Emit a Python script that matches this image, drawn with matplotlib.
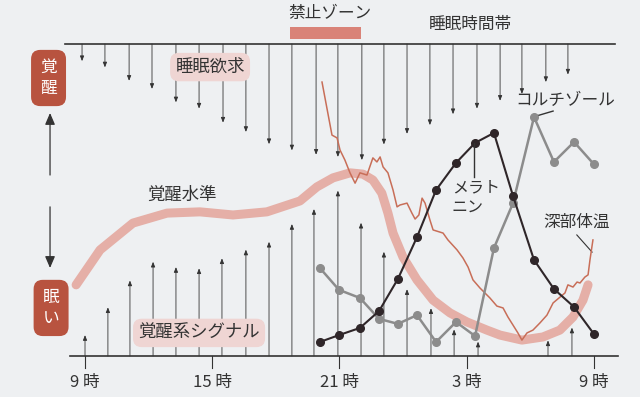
import matplotlib
matplotlib.use("Agg")
import matplotlib.pyplot as plt

plt.rcParams["font.family"] = ["Noto Sans CJK JP", "DejaVu Sans"]

# hours on x (9 = 9時, 33 = 翌9時), level 0..100 on y (0 = bottom line, 100 = top line)
tick_hours = [9, 15, 21, 27, 33]
tick_labels = ["9 時", "15 時", "21 時", "3 時", "9 時"]

# 睡眠欲求 (downward arrows from top line)
pressure_hours = [8.86, 9.94, 11.08, 12.16, 13.29, 14.38, 15.51, 16.59, 17.68, 18.76, 19.9,
                  20.93, 22.06, 23.1, 24.19, 25.27, 26.36, 27.49, 28.58, 29.61, 30.74, 31.78]
pressure_depth = [5.5, 7.5, 11.8, 14.4, 18.7, 20.7, 25.2, 28.2, 32.1, 34.1, 35.5,
                  36.2, 37.2, 32.2, 28.8, 26.0, 22.5, 20.7, 18.2, 16.0, 12.2, 9.8]

# 覚醒系シグナル (upward arrows from bottom line)
signal_hours = [9.0, 10.08, 11.12, 12.21, 13.29, 14.38, 15.46, 16.59, 17.68, 18.76,
                19.8, 20.93, 22.02, 23.1, 24.19, 25.32, 26.41, 27.54, 30.84, 31.97]
signal_height = [6.7, 15.6, 24.2, 30.2, 28.5, 28.1, 31.3, 34.1, 36.6, 42.3,
                 47.1, 53.0, 42.7, 33.4, 21.4, 15.3, 8.5, 4.6, 5.0, 9.1]

# 覚醒水準
arousal_hours = [8.58, 9.71, 11.26, 12.87, 14.42, 15.98, 17.58, 19.14, 19.94, 20.7, 21.5,
                 22.11, 22.58, 23.0, 23.29, 23.53, 24.0, 24.66, 25.42, 26.22, 27.02, 27.96,
                 28.58, 29.61, 30.6, 31.4, 32.02, 32.49, 32.73]
arousal_level = [22.8, 34.0, 42.6, 45.8, 46.2, 45.2, 46.2, 49.7, 54.2, 57.1, 58.7,
                 58.3, 56.4, 52.2, 45.8, 39.4, 31.7, 24.4, 17.9, 13.8, 10.9, 8.3,
                 6.7, 5.1, 6.1, 8.3, 12.5, 17.9, 22.8]

# 深部体温
temp_hours = [20.18, 20.65, 20.89, 21.03, 21.26, 21.5, 21.74, 21.97, 22.3, 22.58, 22.77, 22.92,
              23.06, 23.29, 23.53, 23.72, 23.86, 24.19, 24.42, 24.57, 24.75, 24.9, 25.04, 25.27,
              25.42, 25.89, 26.12, 26.55, 26.83, 27.07, 27.3, 27.63, 28.1, 28.43, 28.72, 28.95,
              29.19, 29.42, 29.61, 29.85, 30.13, 30.46, 30.79, 31.08, 31.41, 31.64, 31.78, 32.02,
              32.21, 32.35, 32.58, 32.73, 32.82, 32.96]
temp_level = [87.8, 70.8, 69.9, 66.0, 62.8, 58.7, 55.4, 58.7, 58.0, 63.5, 62.2, 63.8,
              60.6, 58.7, 53.2, 47.8, 48.4, 49.0, 45.8, 43.9, 45.2, 50.6, 49.0, 43.6,
              40.4, 39.4, 37.2, 34.0, 31.4, 28.5, 24.4, 21.8, 18.6, 16.0, 15.4, 12.5,
              9.9, 7.4, 5.1, 7.4, 8.3, 10.6, 13.1, 17.0, 18.9, 20.2, 22.8, 22.1,
              23.7, 23.4, 25.3, 26.0, 30.8, 37.2]

# メラトニン / コルチゾール
hormone_hours = [20.08, 20.98, 21.97, 22.87, 23.76, 24.66, 25.56, 26.5,
                 27.4, 28.29, 29.19, 30.18, 31.12, 32.07, 33.0]
melatonin = [4.5, 6.7, 9.0, 14.4, 24.7, 38.1, 53.2, 61.9, 68.3, 71.5, 51.3, 30.8, 21.5, 15.7, 7.1]
cortisol = [28.2, 21.2, 18.6, 11.9, 10.3, 13.1, 4.5, 10.9, 6.4, 34.6, 49.0, 76.6, 62.2, 68.6, 61.5]

forbidden_zone = (18.67, 22.0)

paper = "#eef0f2"
ink = "#333333"
dark_red = "#b8533f"
light_pink = "#efd5d3"

fig = plt.figure(figsize=(6.4, 3.97), dpi=100, facecolor=paper)
ax = fig.add_axes([0, 0, 1, 1])
ax.set_facecolor(paper)
ax.set_xlim(4.99, 35.18)
ax.set_ylim(-13.14, 114.1)
ax.axis("off")

# frame lines
ax.plot([8.29, 34.14], [0, 0], color=ink, lw=1.2, zorder=3)
ax.plot([8.06, 34.0], [100, 100], color=ink, lw=1.2, zorder=3)
for h, lab in zip(tick_hours, tick_labels):
    ax.plot([h, h], [0, -4], color=ink, lw=0.8)
    ax.text(h, -8.5, lab, ha="center", va="center", fontsize=12, color=ink)

thin = dict(arrowstyle="-|>,head_length=0.3,head_width=0.12", color=ink, lw=0.6,
            shrinkA=0, shrinkB=0)
for h, d in zip(pressure_hours, pressure_depth):
    ax.annotate("", xy=(h, 100 - d), xytext=(h, 100), arrowprops=thin, zorder=2)
for h, s in zip(signal_hours, signal_height):
    ax.annotate("", xy=(h, s), xytext=(h, 0), arrowprops=thin, zorder=2)

# curves
ax.plot(arousal_hours, arousal_level, color="#e4a89f", lw=6.5, alpha=0.9,
        solid_capstyle="round", solid_joinstyle="round", zorder=4)
ax.plot(temp_hours, temp_level, color="#c86e58", lw=1.1, zorder=5)
ax.plot(hormone_hours, cortisol, color="#8c8c8c", lw=1.8, marker="o", ms=5.5,
        markerfacecolor="#8c8c8c", markeredgecolor="#8c8c8c", zorder=6)
ax.plot(hormone_hours, melatonin, color="#2f2629", lw=1.5, marker="o", ms=5.5,
        markerfacecolor="#2f2629", markeredgecolor="#2f2629", zorder=7)

# forbidden zone
ax.fill_between(forbidden_zone, 101.6, 105.4, color="#d98378", lw=0, zorder=3)
ax.text(20.56, 109.8, "禁止ゾーン", ha="center", va="center", fontsize=12, color=ink)
ax.text(27.16, 106.4, "睡眠時間帯", ha="center", va="center", fontsize=12, color=ink)

# side labels
box = dict(boxstyle="round,pad=0.55,rounding_size=0.55", fc=dark_red, ec="none")
ax.text(7.28, 89.1, "覚\n醒", ha="center", va="center", fontsize=12, color="white",
        linespacing=1.3, bbox=box)
ax.text(7.4, 15.4, "眠\nい", ha="center", va="center", fontsize=12, color="white",
        linespacing=1.3, bbox=box)
big = dict(arrowstyle="-|>,head_length=0.7,head_width=0.3", color=ink, lw=0.9,
           shrinkA=0, shrinkB=0)
ax.annotate("", xy=(7.35, 77.9), xytext=(7.35, 58), arrowprops=big)
ax.annotate("", xy=(7.35, 28.2), xytext=(7.35, 47.8), arrowprops=big)

tag = dict(boxstyle="round,pad=0.3,rounding_size=0.5", fc=light_pink, ec="none")
ax.text(14.9, 92.6, "睡眠欲求", ha="center", va="center", fontsize=12.5, color=ink,
        bbox=tag, zorder=8)
ax.text(14.38, 7.4, "覚醒系シグナル", ha="center", va="center", fontsize=12.5, color=ink,
        bbox=tag, zorder=8)

ax.text(13.58, 51.6, "覚醒水準", ha="center", va="center", fontsize=12.5, color=ink)
ax.text(26.3, 53.8, "メラト", ha="left", va="center", fontsize=11.5, color=ink, zorder=8)
ax.text(26.3, 47.4, "ニン", ha="left", va="center", fontsize=11.5, color=ink, zorder=8)
ax.plot([27.35, 27.35], [68.3, 57.4], color=ink, lw=1.0, zorder=7)
ax.text(29.28, 82.0, "コルチゾール", ha="left", va="center", fontsize=12, color=ink)
ax.plot([30.13, 31.08], [76.6, 78.5], color=ink, lw=1.0)
ax.text(30.6, 42.9, "深部体温", ha="left", va="center", fontsize=12, color=ink)
ax.plot([32.2, 32.92], [38.8, 33.3], color=ink, lw=0.8)

fig.savefig("out.png", dpi=100, facecolor=paper)
